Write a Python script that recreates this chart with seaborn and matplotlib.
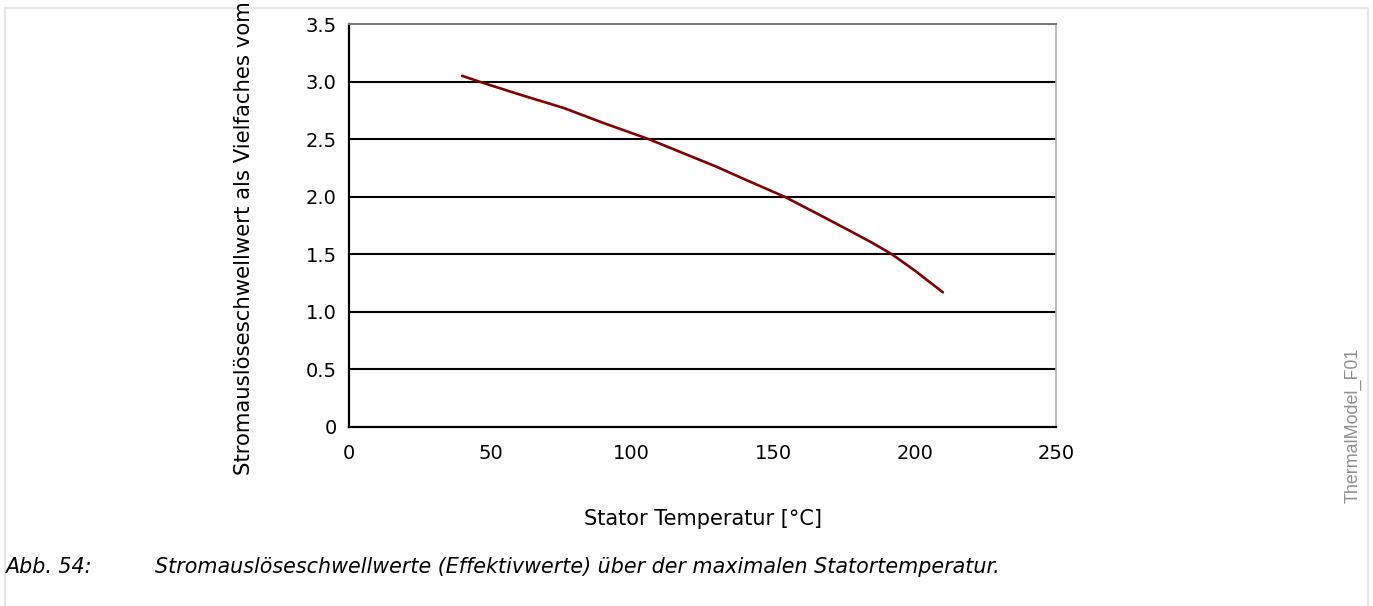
import numpy as np
import pandas as pd
import matplotlib
matplotlib.use('Agg')
import matplotlib.pyplot as plt
from matplotlib.patches import Rectangle
import seaborn as sns

# values
temps = [40, 46, 60, 76, 90, 106, 120, 130, 140, 154, 165, 177, 185, 192, 200, 210]
factors = [3.05, 3.0, 2.89, 2.77, 2.64, 2.5, 2.36, 2.26, 2.15, 2.0, 1.86, 1.705, 1.60, 1.5, 1.36, 1.17]
x_ticks = [0, 50, 100, 150, 200, 250]
y_ticks = [0, 0.5, 1.0, 1.5, 2.0, 2.5, 3.0, 3.5]
y_labels = ['0', '0.5', '1.0', '1.5', '2.0', '2.5', '3.0', '3.5']

df = pd.DataFrame({'temp': temps, 'factor': factors})

sns.set_theme(style='white')
plt.rcParams['font.family'] = ['DejaVu Sans']
plt.rcParams['text.color'] = 'black'
plt.rcParams['axes.labelcolor'] = 'black'

W, H = 1373, 606
fig = plt.figure(figsize=(W / 100, H / 100), dpi=100)
ax = fig.add_axes([349 / W, 1 - 427 / H, (1056 - 349) / W, (427 - 24) / H])

# light frame around the page region
fig.patches.append(Rectangle((5 / W, -0.05), (1368 - 5) / W, 1 - 8 / H + 0.05,
                             transform=fig.transFigure, fill=False,
                             edgecolor='#e6e6e6', lw=1.6))

for y in y_ticks[1:-1]:
    ax.axhline(y, color='black', lw=1.5, zorder=1)

sns.lineplot(data=df, x='temp', y='factor', ax=ax, color='#800000', lw=1.9, zorder=3)

ax.set_xlim(0, 250)
ax.set_ylim(0, 3.5)
ax.set_xticks(x_ticks)
ax.set_yticks(y_ticks)
ax.set_yticklabels(y_labels)
ax.tick_params(axis='both', labelsize=14, colors='black', length=4, width=1.3)
ax.tick_params(axis='x', direction='inout', length=5, pad=10)
ax.tick_params(axis='y', direction='out', pad=5)

ax.spines['left'].set_color('black')
ax.spines['left'].set_linewidth(1.6)
ax.spines['bottom'].set_color('black')
ax.spines['bottom'].set_linewidth(1.6)
ax.spines['top'].set_color('#7a7a7a')
ax.spines['top'].set_linewidth(1.5)
ax.spines['right'].set_color('#b0b0b0')
ax.spines['right'].set_linewidth(1.2)

ax.set_xlabel('Stator Temperatur [°C]', fontsize=15, labelpad=33)
ax.set_ylabel('')

fig.text(244 / W, 1 - 475 / H, 'Stromauslöseschwellwert als Vielfaches vom',
         rotation=90, ha='center', va='bottom', fontsize=15.3)

fig.text(5 / W, 1 - 567 / H, 'Abb. 54:', style='italic', fontsize=14.9, va='center')
fig.text(155 / W, 1 - 567 / H,
         'Stromauslöseschwellwerte (Effektivwerte) über der maximalen Statortemperatur.',
         style='italic', fontsize=14.9, va='center')

fig.text(1353 / W, 1 - 425 / H, 'ThermalModel_F01', rotation=90, ha='center', va='center',
         fontsize=12.9, color='#909090', family=['Liberation Sans', 'DejaVu Sans'])

fig.savefig('out.png', dpi=100)
